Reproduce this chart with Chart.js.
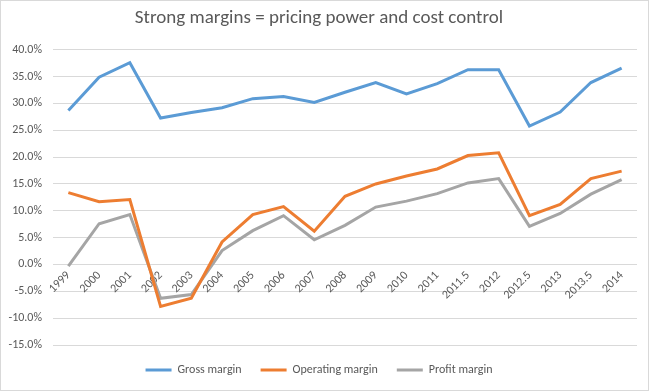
<!DOCTYPE html>
<html>
<head>
<meta charset="utf-8">
<script src="https://cdn.jsdelivr.net/npm/chart.js@4"></script>
<style>
  body { margin: 0; background: #fff; }
  #wrap { width: 647px; height: 389px; border: 1px solid #d9d9d9; }
</style>
</head>
<body>
<div id="wrap"><canvas id="myChart" width="647" height="389"></canvas></div>
<script>
// 데이터 (%)
var years = ['1999','2000','2001','2002','2003','2004','2005','2006','2007','2008',
             '2009','2010','2011','2011.5','2012','2012.5','2013','2013.5','2014'];
var grossMargin = [28.7, 34.9, 37.6, 27.3, 28.3, 29.2, 30.9, 31.3, 30.2, 32.1,
                   33.9, 31.8, 33.7, 36.3, 36.3, 25.8, 28.4, 33.9, 36.6];
var operatingMargin = [13.4, 11.7, 12.1, -7.8, -6.3, 4.2, 9.3, 10.8, 6.2, 12.7,
                       15.0, 16.5, 17.8, 20.3, 20.8, 9.1, 11.2, 16.0, 17.4];
var profitMargin = [-0.3, 7.6, 9.3, -6.3, -5.6, 2.6, 6.3, 9.1, 4.6, 7.3,
                    10.7, 11.8, 13.2, 15.2, 16.0, 7.1, 9.5, 13.1, 15.8];
var yTicks = [-15, -10, -5, 0, 5, 10, 15, 20, 25, 30, 35, 40];

var font = "'Liberation Sans Narrow', Carlito, Calibri, 'Open Sans', sans-serif";
var grey = '#595959';

function line(label, data, color) {
	return {
		label: label,
		data: data,
		borderColor: color,
		backgroundColor: color,
		borderWidth: 3,
		pointRadius: 0,
		tension: 0,
		fill: false
	};
}

var myData = {
	labels: years,
	datasets: [
		line('Gross margin', grossMargin, '#5b9bd5'),
		line('Operating margin', operatingMargin, '#ed7d31'),
		line('Profit margin', profitMargin, '#a5a5a5')
	]
};

var myConfig = {
	type: 'line',
	data: myData,
	options: {
		responsive: false,
		animation: false,
		layout: { padding: { left: 0, right: 11, top: 0, bottom: 4 } },
		plugins: {
			title: {
				display: true,
				text: 'Strong margins = pricing power and cost control',
				color: grey,
				font: { family: font, size: 19, weight: 'normal' },
				padding: { top: 6, bottom: 20 }
			},
			legend: {
				position: 'bottom',
				labels: {
					color: grey,
					font: { family: font, size: 12 },
					usePointStyle: true,
					pointStyle: 'line',
					pointStyleWidth: 26,
					padding: 19
				}
			},
			tooltip: { enabled: false }
		},
		scales: {
			x: {
				position: { y: 0 },
				offset: true,
				grid: { display: false, drawTicks: false },
				border: { display: false },
				ticks: {
					color: grey,
					font: { family: font, size: 12 },
					minRotation: 45,
					maxRotation: 45,
					autoSkip: false,
					padding: 4
				}
			},
			y: {
				min: -15,
				max: 40,
				afterBuildTicks: function(scale) {
					scale.ticks = yTicks.map(function(v) { return { value: v }; });
				},
				afterFit: function(scale) { scale.width = 52; },
				grid: { color: '#d9d9d9', drawTicks: false },
				border: { display: false },
				ticks: {
					color: grey,
					font: { family: font, size: 12 },
					padding: 11,
					callback: function(v) { return v.toFixed(1) + '%'; }
				}
			}
		}
	}
};

var ctx1 = document.getElementById('myChart').getContext('2d');
var myLine = new Chart(ctx1, myConfig);
</script>
</body>
</html>
